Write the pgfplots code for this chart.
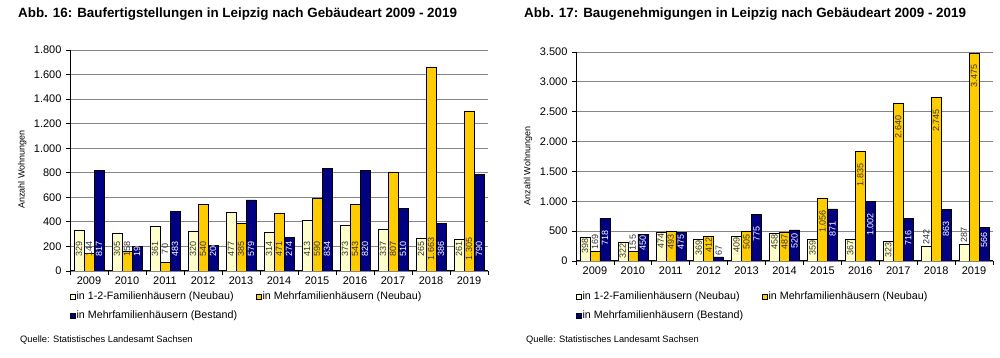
\documentclass[border=0pt]{standalone}
\usepackage{fontspec}
\setmainfont{Liberation Sans}
\usepackage{pgfplots}
\usepackage{pgfplotstable}
\pgfplotsset{compat=1.18}
\definecolor{cream}{HTML}{FFFFCC}
\definecolor{gold}{HTML}{FFCC00}
\definecolor{navyb}{HTML}{000080}
\definecolor{labgray}{HTML}{333333}
\definecolor{gridgray}{HTML}{868686}
\pgfkeys{/pgf/number format/.cd,1000 sep={.},assume math mode=true}

\pgfplotstableread{
x a b c
0 329 144 817
1 305 158 198
2 361 70 483
3 320 540 206
4 477 385 579
5 314 471 274
6 413 590 834
7 373 543 820
8 337 807 510
9 265 1663 386
10 261 1305 790
}\fertig

% oa, ob, oc: vertical offset (pt) of the label's upper end from the bar top
% (negative = inside the bar, positive = label sits above the bar)
% tc: 100 = white label, 0 = dark label
\pgfplotstableread{
x a b c oa ob oc tc
0 398 169 718 -1 17 -12 100
1 322 155 450 -1 17 -1.5 100
2 474 493 475 -1 -2.4 -1.5 100
3 369 412 67 -1 -1 12 0
4 409 505 775 -1 -3 -12 100
5 458 487 520 -1 -2 -3.5 100
6 359 1056 871 -1 -12 -12 100
7 367 1835 1002 -1 -12 -12 100
8 323 2640 716 -1 -12 -12 100
9 242 2745 863 17 -12 -12 100
10 287 3475 566 17 -11 -5.5 100
}\genehm

\pgfplotsset{
  mybase/.style={
    scale only axis,
    ybar, bar width=10pt,
    xmin=-0.5, xmax=10.5, ymin=0,
    axis x line*=bottom, axis y line*=left,
    xtick={-0.5,0.5,...,10.5}, xticklabels={},
    extra x ticks={0,1,2,3,4,5,6,7,8,9,10},
    extra x tick labels={2009,2010,2011,2012,2013,2014,2015,2016,2017,2018,2019},
    extra x tick style={major tick length=0pt, grid=none, xticklabel style={yshift=-2pt}},
    tick align=outside, major tick length=4pt,
    ymajorgrids, grid style={gridgray, line width=0.8pt},
    axis line style={black, line width=1pt},
    tick style={black, line width=0.8pt},
    tick label style={font=\fontsize{11}{13}\selectfont},
    yticklabel style={xshift=-1pt},
    scaled y ticks=false,
    ylabel={Anzahl Wohnungen},
    ylabel style={font=\fontsize{9}{11}\selectfont, anchor=center},
    legend columns=2,
    legend cell align=left,
    legend style={draw=none, fill=none, anchor=north west, inner sep=0pt,
      font=\fontsize{10.7}{12}\selectfont,
      nodes={inner sep=1pt},
      /tikz/every even column/.append style={column sep=18pt},
      row sep=7.5pt},
    legend image code/.code={\draw[#1, line width=0.4pt] (0pt,-2.5pt) rectangle (5pt,2.5pt);},
  }
}

\begin{document}
\begin{tikzpicture}
\path[use as bounding box] (0,0) rectangle (1000pt,358pt);

\node[anchor=west, font=\bfseries\fontsize{13.4}{15}\selectfont, inner sep=0pt] at (18pt,344pt) {Abb. 16: Baufertigstellungen in Leipzig nach Gebäudeart 2009 - 2019};
\node[anchor=west, font=\bfseries\fontsize{13.4}{15}\selectfont, inner sep=0pt] at (524pt,344pt) {Abb. 17: Baugenehmigungen in Leipzig nach Gebäudeart 2009 - 2019};
\node[anchor=west, font=\fontsize{9.3}{11}\selectfont, inner sep=0pt] at (20pt,18pt) {Quelle: Statistisches Landesamt Sachsen};
\node[anchor=west, font=\fontsize{9.3}{11}\selectfont, inner sep=0pt] at (526pt,18pt) {Quelle: Statistisches Landesamt Sachsen};

% Left chart
\begin{axis}[mybase,
  at={(70pt,87pt)}, anchor=south west,
  width=418pt, height=221pt,
  ymax=1800, ytick={0,200,...,1800},
  ylabel style={at={(axis description cs:-0.114,0.46)}},
  legend style={at={(0,0)}, xshift=0pt, yshift=-20pt},
]
\addplot[forget plot, fill=cream, draw=black, line width=0.5pt, bar shift=-10pt,
  visualization depends on={y \as \rawv},
  nodes near coords,
  every node near coord/.append style={shift={(axis direction cs:0,-\rawv)}, yshift=22pt, rotate=90, anchor=center, inner sep=0pt, font=\fontsize{9}{10}\selectfont, text=labgray}]
  table[x=x,y=a]{\fertig};
\addplot[forget plot, fill=gold, draw=black, line width=0.5pt, bar shift=0pt,
  visualization depends on={y \as \rawv},
  nodes near coords,
  every node near coord/.append style={shift={(axis direction cs:0,-\rawv)}, yshift=22pt, rotate=90, anchor=center, inner sep=0pt, font=\fontsize{9}{10}\selectfont, text=labgray}]
  table[x=x,y=b]{\fertig};
\addplot[forget plot, fill=navyb, draw=black, line width=0.5pt, bar shift=10pt,
  visualization depends on={y \as \rawv},
  nodes near coords,
  every node near coord/.append style={shift={(axis direction cs:0,-\rawv)}, yshift=22pt, rotate=90, anchor=center, inner sep=0pt, font=\fontsize{9}{10}\selectfont, text=white}]
  table[x=x,y=c]{\fertig};
\addlegendimage{fill=cream, draw=black}
\addlegendentry{in 1-2-Familienhäusern (Neubau)}
\addlegendimage{fill=gold, draw=black}
\addlegendentry{in Mehrfamilienhäusern (Neubau)}
\addlegendimage{fill=navyb, draw=black}
\addlegendentry{in Mehrfamilienhäusern (Bestand)}
\end{axis}

% Right chart
\begin{axis}[mybase,
  at={(576pt,97pt)}, anchor=south west,
  width=417pt, height=209pt,
  ymax=3500, ytick={0,500,...,3500},
  ylabel style={at={(axis description cs:-0.115,0.455)}},
  legend style={at={(0,0)}, xshift=0pt, yshift=-30pt},
]
\addplot[forget plot, fill=cream, draw=black, line width=0.5pt, bar shift=-10pt,
  visualization depends on={\thisrow{oa} \as \off},
  nodes near coords,
  every node near coord/.append style={yshift=\off pt, rotate=90, anchor=east, inner sep=0pt, font=\fontsize{9}{10}\selectfont, text=labgray}]
  table[x=x,y=a]{\genehm};
\addplot[forget plot, fill=gold, draw=black, line width=0.5pt, bar shift=0pt,
  visualization depends on={\thisrow{ob} \as \off},
  nodes near coords,
  every node near coord/.append style={yshift=\off pt, rotate=90, anchor=east, inner sep=0pt, font=\fontsize{9}{10}\selectfont, text=labgray}]
  table[x=x,y=b]{\genehm};
\addplot[forget plot, fill=navyb, draw=black, line width=0.5pt, bar shift=10pt,
  visualization depends on={\thisrow{oc} \as \off},
  visualization depends on={\thisrow{tc} \as \tcol},
  nodes near coords,
  every node near coord/.append style={yshift=\off pt, rotate=90, anchor=east, inner sep=0pt, font=\fontsize{9}{10}\selectfont, text=white!\tcol!labgray}]
  table[x=x,y=c]{\genehm};
\addlegendimage{fill=cream, draw=black}
\addlegendentry{in 1-2-Familienhäusern (Neubau)}
\addlegendimage{fill=gold, draw=black}
\addlegendentry{in Mehrfamilienhäusern (Neubau)}
\addlegendimage{fill=navyb, draw=black}
\addlegendentry{in Mehrfamilienhäusern (Bestand)}
\end{axis}
\end{tikzpicture}
\end{document}
